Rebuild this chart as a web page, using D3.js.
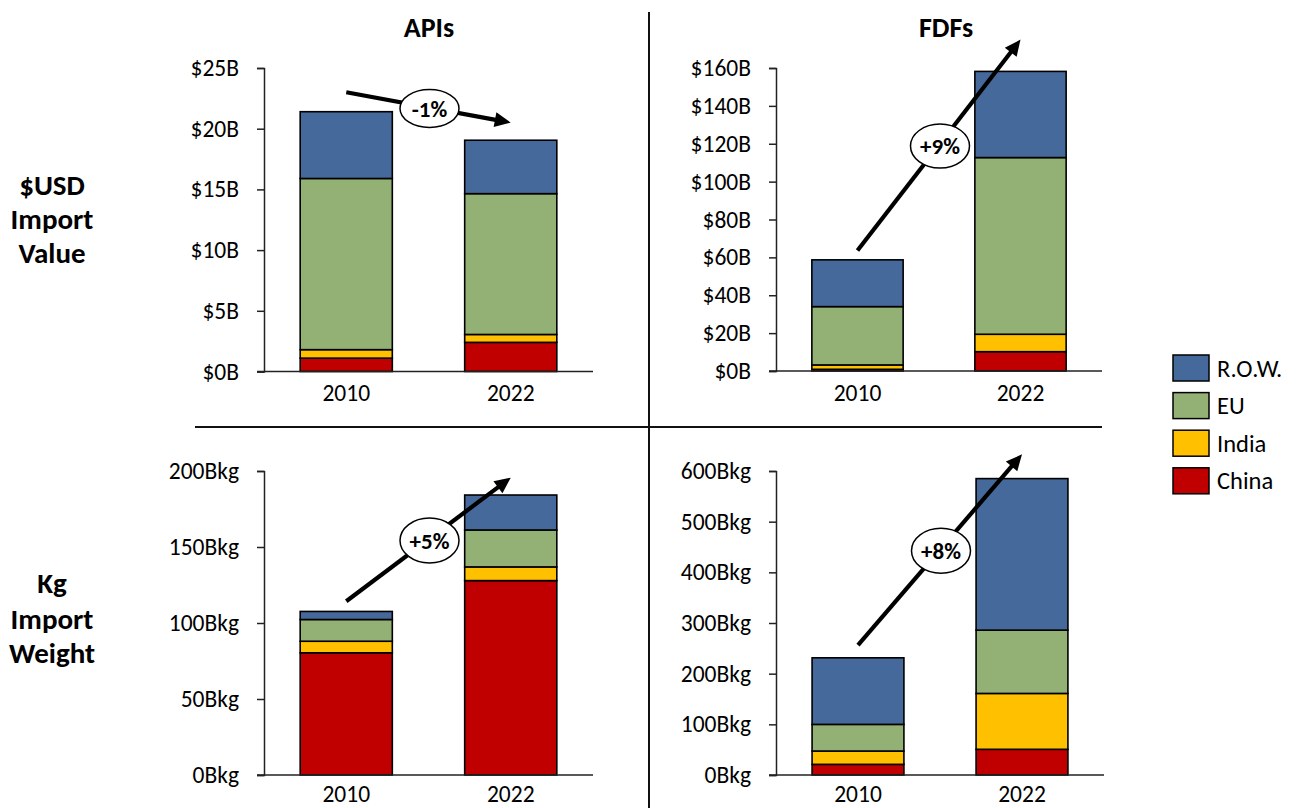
<!DOCTYPE html>
<html>
<head>
<meta charset="utf-8">
<script src="https://cdn.jsdelivr.net/npm/d3@7"></script>
<style>
  html, body { margin: 0; padding: 0; background: #fff; }
  svg { display: block; }
  text { font-family: Carlito, Calibri, Lato, "Open Sans", sans-serif; fill: #000; }
</style>
</head>
<body>
<svg id="chart" width="1296" height="808"></svg>
<script>
// ---------------- DATA ----------------
const years = ["2010", "2022"];
const regions = ["China", "India", "EU", "R.O.W."];       // stacking order (bottom -> top)
const legendOrder = ["R.O.W.", "EU", "India", "China"];
const regionColors = ["#C00000", "#FFC000", "#93B175", "#46699C"];

const columnTitles = ["APIs", "FDFs"];
const rowTitles = [["$USD", "Import", "Value"], ["Kg", "Import", "Weight"]];

// $USD import value (billions): [China, India, EU, R.O.W.]
const apiUsd2010 = [1.1, 0.7, 14.1, 5.5];
const apiUsd2022 = [2.4, 0.65, 11.6, 4.4];
const fdfUsd2010 = [0.9, 2.3, 30.8, 24.7];
const fdfUsd2022 = [10.2, 9.2, 93.3, 45.5];
// Kg import weight (billion kg): [China, India, EU, R.O.W.]
const apiKg2010 = [80.4, 7.6, 14.3, 5.3];
const apiKg2022 = [127.9, 9.0, 24.3, 23.0];
const fdfKg2010 = [21.0, 26.3, 52.6, 131.4];
const fdfKg2022 = [50.7, 110.3, 124.9, 299.1];

// y-axis tick values
const apiUsdTicks = [0, 5, 10, 15, 20, 25];
const fdfUsdTicks = [0, 20, 40, 60, 80, 100, 120, 140, 160];
const apiKgTicks = [0, 50, 100, 150, 200];
const fdfKgTicks = [0, 100, 200, 300, 400, 500, 600];

// growth annotations: label, arrow start value (above 2010), arrow end value (above 2022)
const growthLabels = ["-1%", "+9%", "+5%", "+8%"];
const growthFrom = [23.0, 63.6, 114.3, 256.3];
const growthTo = [20.5, 175.0, 195.6, 632.9];

// ---------------- LAYOUT ----------------
const svg = d3.select("#chart");
const fontTick = 23.5;
const FONT = "Carlito, Calibri, Lato, sans-serif";

const usdFmt = d => `$${d}B`;
const kgFmt = d => `${d}Bkg`;

const panels = [
  { x0: 264, x1: 593, yTop: 68, yBot: 371.5, ticks: apiUsdTicks, fmt: usdFmt, d2010: apiUsd2010, d2022: apiUsd2022, g: 0, ry: 19, pad: 13 },
  { x0: 776, x1: 1102, yTop: 68, yBot: 371, ticks: fdfUsdTicks, fmt: usdFmt, d2010: fdfUsd2010, d2022: fdfUsd2022, g: 1, ry: 22, pad: 13 },
  { x0: 264, x1: 593, yTop: 471, yBot: 775, ticks: apiKgTicks, fmt: kgFmt, d2010: apiKg2010, d2022: apiKg2022, g: 2, ry: 22.5, pad: 10 },
  { x0: 776, x1: 1104, yTop: 471, yBot: 775, ticks: fdfKgTicks, fmt: kgFmt, d2010: fdfKg2010, d2022: fdfKg2022, g: 3, ry: 22.5, pad: 10 }
];

const color = d3.scaleOrdinal().domain(regions).range(regionColors);

panels.forEach(p => {
  const g = svg.append("g");
  const maxT = p.ticks[p.ticks.length - 1];
  const y = d3.scaleLinear().domain([0, maxT]).range([p.yBot, p.yTop]);
  const x = d3.scaleBand().domain(years).range([p.x0, p.x1]).paddingInner(0.44).paddingOuter(0.22);

  const rows = years.map((yr, i) => {
    const vals = i === 0 ? p.d2010 : p.d2022;
    const o = { year: yr };
    regions.forEach((r, j) => o[r] = vals[j]);
    return o;
  });
  const stacked = d3.stack().keys(regions)(rows);

  // bars
  g.selectAll("g.layer").data(stacked).join("g")
    .attr("class", "layer")
    .attr("fill", d => color(d.key))
    .selectAll("rect").data(d => d).join("rect")
    .attr("x", d => x(d.data.year))
    .attr("width", x.bandwidth())
    .attr("y", d => y(d[1]))
    .attr("height", d => y(d[0]) - y(d[1]))
    .attr("stroke", "#000")
    .attr("stroke-width", 1.6);

  // y axis
  const yAxis = d3.axisLeft(y).tickValues(p.ticks).tickFormat(p.fmt).tickSizeOuter(0).tickSize(7).tickPadding(18);
  const ya = g.append("g").attr("transform", `translate(${p.x0},0)`).call(yAxis);
  ya.select(".domain").attr("stroke", "#222").attr("stroke-width", 1.5);
  ya.selectAll(".tick line").attr("stroke", "#222").attr("stroke-width", 1.5);
  ya.selectAll(".tick text").attr("font-size", fontTick).attr("fill", "#000")
    .style("font-family", FONT);

  // x axis
  const xAxis = d3.axisBottom(x).tickSize(0).tickSizeOuter(0).tickPadding(p.pad);
  const xa = g.append("g").attr("transform", `translate(0,${p.yBot})`).call(xAxis);
  xa.select(".domain").attr("stroke", "#222").attr("stroke-width", 1.5)
    .attr("d", `M${p.x0 - 7},0H${p.x1}`);
  xa.selectAll(".tick text").attr("font-size", fontTick).attr("fill", "#000")
    .style("font-family", FONT);

  // growth arrow
  const gi = p.g;
  const cx0 = x(years[0]) + x.bandwidth() / 2;
  const cx1 = x(years[1]) + x.bandwidth() / 2;
  const sx = cx0, sy = y(growthFrom[gi]);
  const ex = cx1, ey = y(growthTo[gi]);
  const dx = ex - sx, dy = ey - sy, len = Math.hypot(dx, dy);
  const ux = dx / len, uy = dy / len, nx = -uy, ny = ux;
  const headL = 16, headW = 7.5;
  g.append("line")
    .attr("x1", sx).attr("y1", sy)
    .attr("x2", ex - ux * (headL - 2)).attr("y2", ey - uy * (headL - 2))
    .attr("stroke", "#000").attr("stroke-width", 4.2);
  g.append("path")
    .attr("d", `M${ex},${ey}L${ex - ux * headL + nx * headW},${ey - uy * headL + ny * headW}L${ex - ux * headL - nx * headW},${ey - uy * headL - ny * headW}Z`)
    .attr("fill", "#000");
  const mx = (sx + ex) / 2 + 1, my = (sy + ey) / 2 + 1;
  g.append("ellipse").attr("cx", mx).attr("cy", my).attr("rx", 29.5).attr("ry", p.ry)
    .attr("fill", "#fff").attr("stroke", "#000").attr("stroke-width", 1.5);
  g.append("text").attr("x", mx).attr("y", my).attr("dy", "0.35em")
    .attr("text-anchor", "middle").attr("font-size", 23).attr("font-weight", "bold")
    .text(growthLabels[gi]);
});

// column titles
const colCenters = [429, 946];
columnTitles.forEach((t, i) => {
  svg.append("text").attr("x", colCenters[i]).attr("y", 37)
    .attr("text-anchor", "middle").attr("font-size", 28).attr("font-weight", "bold").text(t);
});

// row titles
const rowBaselines = [[195, 229, 263], [593, 629, 663]];
rowTitles.forEach((lines, i) => {
  lines.forEach((l, j) => {
    svg.append("text").attr("x", 52).attr("y", rowBaselines[i][j])
      .attr("text-anchor", "middle").attr("font-size", 29).attr("font-weight", "bold").text(l);
  });
});

// dividers
svg.append("line").attr("x1", 649).attr("x2", 649).attr("y1", 12).attr("y2", 808)
  .attr("stroke", "#111").attr("stroke-width", 2);
svg.append("line").attr("x1", 195).attr("x2", 1102).attr("y1", 427).attr("y2", 427)
  .attr("stroke", "#111").attr("stroke-width", 2);

// legend
const lg = svg.append("g").attr("transform", "translate(1173,355)");
legendOrder.forEach((r, i) => {
  const row = lg.append("g").attr("transform", `translate(0,${i * 37.6})`);
  row.append("rect").attr("width", 36).attr("height", 26)
    .attr("fill", color(r)).attr("stroke", "#000").attr("stroke-width", 1.5);
  row.append("text").attr("x", 44).attr("y", 13).attr("dy", "0.35em")
    .attr("font-size", 24.5).text(r);
});
</script>
</body>
</html>
